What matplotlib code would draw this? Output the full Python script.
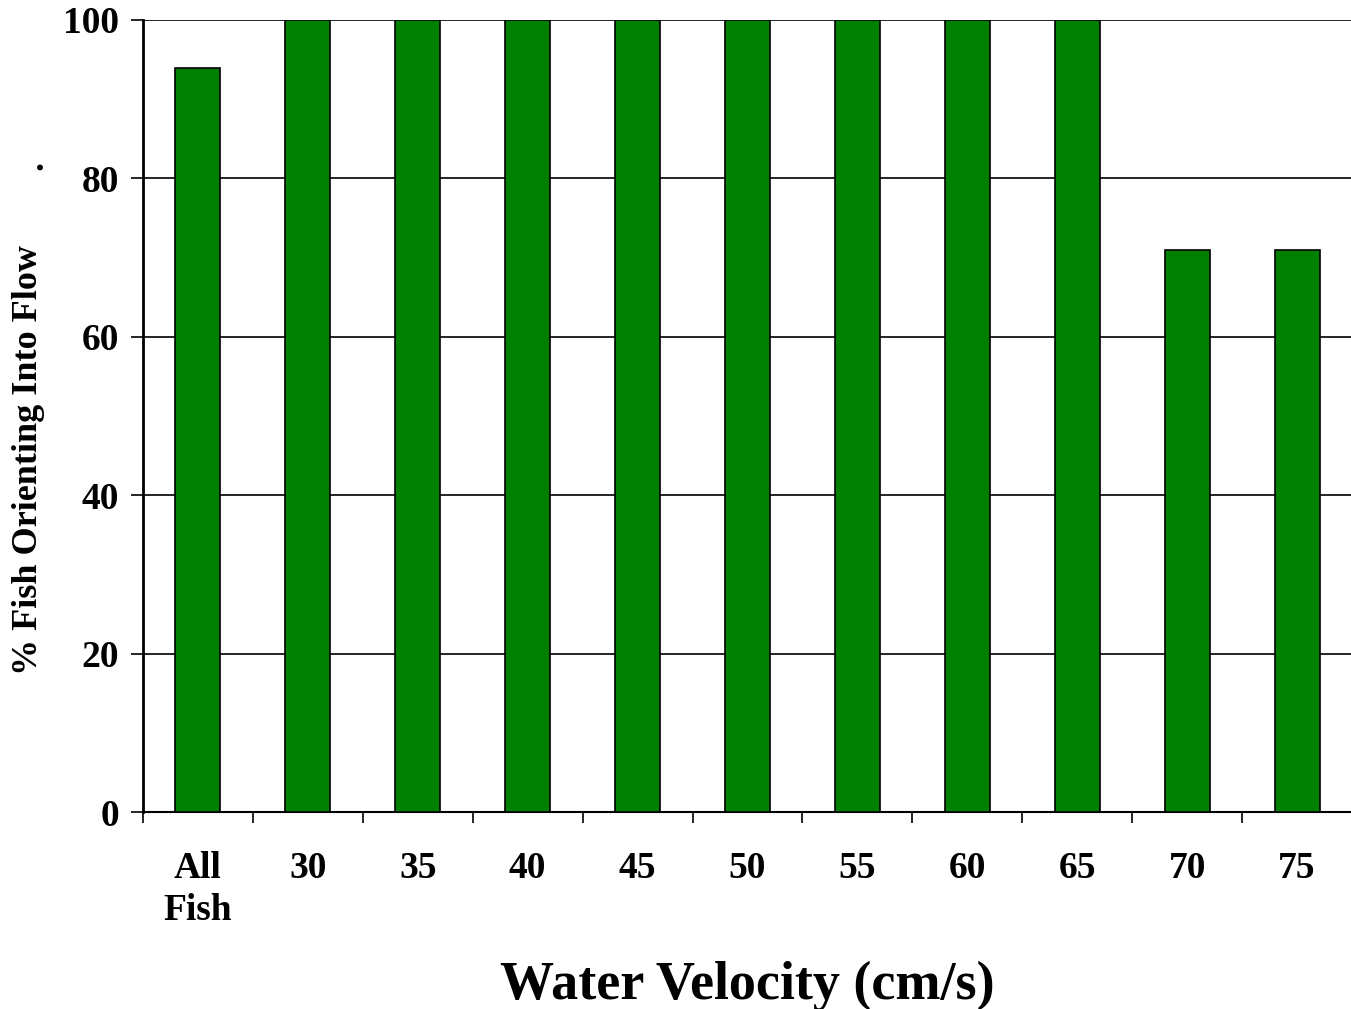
import numpy as np
import matplotlib.pyplot as plt

categories = ['All\nFish', '30', '35', '40', '45', '50', '55', '60', '65', '70', '75']
pct_orienting = [94, 100, 100, 100, 100, 100, 100, 100, 100, 71, 71]

plt.rcParams['font.family'] = ['Liberation Serif', 'DejaVu Serif']
plt.rcParams['font.weight'] = 'bold'

fig = plt.figure(figsize=(13.51, 10.09), dpi=100)
ax = fig.add_axes([0.1058, 0.1952, 0.8950, 0.7850])

x = np.arange(len(categories))
ax.set_axisbelow(True)
ax.yaxis.grid(True, color='black', linewidth=1.2)
ax.bar(x, pct_orienting, width=0.41, color='#008000', edgecolor='black', linewidth=1.2, zorder=3)

ax.set_xlim(-0.5, len(categories) - 0.5)
ax.set_ylim(0, 100)
ax.set_yticks([0, 20, 40, 60, 80, 100])
ax.tick_params(axis='y', direction='out', length=9, width=1.2, labelsize=27, pad=8)

# category labels at centres, tick marks at boundaries
ax.set_xticks(x)
ax.set_xticklabels(categories, fontsize=27, fontweight='bold', linespacing=1.25)
ax.tick_params(axis='x', which='major', length=0, pad=28)
ax.set_xticks(np.arange(-0.5, len(categories) + 0.5, 1), minor=True)
ax.tick_params(axis='x', which='minor', direction='out', length=8, width=1.2)

for s in ['top', 'right']:
    ax.spines[s].set_visible(False)
ax.spines['left'].set_linewidth(2)
ax.spines['bottom'].set_linewidth(1.5)

ax.set_xlabel('Water Velocity (cm/s)', fontsize=39, fontweight='bold', labelpad=24)
fig.text(0.021, 0.544, '% Fish Orienting Into Flow', rotation=90, fontsize=26,
         fontweight='bold', ha='center', va='center')
fig.text(0.025, 0.836, '.', rotation=90, fontsize=26, fontweight='bold', ha='center', va='center')

fig.savefig('out.png', dpi=100)
